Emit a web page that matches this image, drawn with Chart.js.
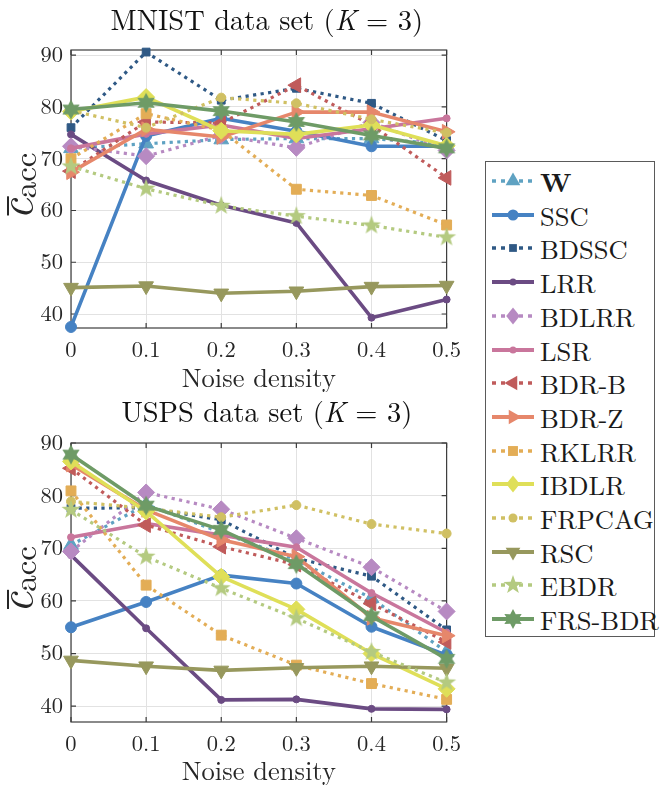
<!DOCTYPE html>
<html><head><meta charset="utf-8">
<script src="https://cdn.jsdelivr.net/npm/chart.js@4.4.1/dist/chart.umd.min.js"></script>
<style>
html,body{margin:0;padding:0;background:#fff;width:663px;height:785px;overflow:hidden;}
#c1{position:absolute;left:0;top:0;}
#c2{position:absolute;left:0;top:390px;}
#legend{position:absolute;left:485px;top:161px;width:170px;height:476px;border:1px solid #5a5a5a;box-sizing:border-box;font-family:"Latin Modern Roman","Liberation Serif",serif;font-size:26.5px;color:#1a1a1a;background:#fff;}
.item{position:absolute;left:5px;height:30px;display:flex;align-items:center;white-space:nowrap;}
.item svg{width:44px;height:30px;margin-right:5px;flex:none;}
</style></head><body>
<canvas id="c1" width="470" height="392"></canvas>
<canvas id="c2" width="470" height="395"></canvas>
<div id="legend"></div>
<script>
// ---------- data ----------
const noiseDensity = [0, 0.1, 0.2, 0.3, 0.4, 0.5];
const xTickLabels = ['0', '0.1', '0.2', '0.3', '0.4', '0.5'];
const yTickValues = [40, 50, 60, 70, 80, 90];
const methods = ['W', 'SSC', 'BDSSC', 'LRR', 'BDLRR', 'LSR', 'BDR-B', 'BDR-Z', 'RKLRR', 'IBDLR', 'FRPCAG', 'RSC', 'EBDR', 'FRS-BDR'];
const titleTop = 'MNIST data set (K = 3)';
const titleBottom = 'USPS data set (K = 3)';
const xAxisTitle = 'Noise density';

// MNIST (K = 3)
const mnistW      = [72.0, 72.9, 73.7, 73.9, 73.9, 72.8];
const mnistSSC    = [37.5, 74.4, 77.8, 75.3, 72.4, 72.4];
const mnistBDSSC  = [76.0, 90.6, 81.3, 83.6, 80.7, 73.5];
const mnistLRR    = [74.7, 65.8, 61.0, 57.6, 39.3, 42.8];
const mnistBDLRR  = [72.4, 70.5, 74.5, 72.1, 77.0, 71.6];
const mnistLSR    = [72.0, 74.8, 76.5, 73.9, 75.8, 77.8];
const mnistBDRB   = [67.6, 77.1, 76.9, 84.2, 76.5, 66.3];
const mnistBDRZ   = [67.4, 75.7, 74.2, 79.0, 79.0, 75.2];
const mnistRKLRR  = [70.0, 78.7, 75.5, 64.1, 62.9, 57.2];
const mnistIBDLR  = [79.1, 81.9, 75.4, 74.7, 76.5, 72.5];
const mnistFRPCAG = [79.3, 76.0, 81.8, 80.7, 77.6, 75.0];
const mnistRSC    = [45.1, 45.4, 44.0, 44.4, 45.3, 45.5];
const mnistEBDR   = [68.5, 64.2, 60.9, 58.9, 57.1, 54.8];
const mnistFRSBDR = [79.5, 80.8, 79.2, 77.1, 74.5, 72.0];

// USPS (K = 3)
const uspsW      = [70.6, 78.3, 73.0, 67.8, 60.5, 50.3];
const uspsSSC    = [55.0, 59.8, 64.9, 63.3, 55.1, 49.7];
const uspsBDSSC  = [77.6, 77.7, 75.4, 68.1, 64.7, 54.5];
const uspsLRR    = [68.7, 54.8, 41.2, 41.3, 39.5, 39.4];
const uspsBDLRR  = [69.4, 80.6, 77.4, 71.9, 66.4, 58.0];
const uspsLSR    = [72.1, 74.7, 72.5, 70.2, 61.5, 54.0];
const uspsBDRB   = [85.2, 74.4, 70.3, 66.9, 59.5, 52.2];
const uspsBDRZ   = [85.9, 77.3, 71.6, 68.4, 56.8, 53.4];
const uspsRKLRR  = [80.9, 63.0, 53.5, 47.8, 44.3, 41.3];
const uspsIBDLR  = [86.5, 77.0, 64.6, 58.4, 50.0, 43.3];
const uspsFRPCAG = [78.9, 77.6, 75.9, 78.2, 74.6, 72.8];
const uspsRSC    = [48.7, 47.6, 46.8, 47.3, 47.6, 47.2];
const uspsEBDR   = [77.3, 68.4, 62.4, 56.7, 50.3, 44.5];
const uspsFRSBDR = [87.8, 78.1, 73.5, 67.0, 57.1, 49.0];

const mnistSeries = [mnistW, mnistSSC, mnistBDSSC, mnistLRR, mnistBDLRR, mnistLSR, mnistBDRB, mnistBDRZ, mnistRKLRR, mnistIBDLR, mnistFRPCAG, mnistRSC, mnistEBDR, mnistFRSBDR];
const uspsSeries  = [uspsW, uspsSSC, uspsBDSSC, uspsLRR, uspsBDLRR, uspsLSR, uspsBDRB, uspsBDRZ, uspsRKLRR, uspsIBDLR, uspsFRPCAG, uspsRSC, uspsEBDR, uspsFRSBDR];

// ---------- styles ----------
const styles = [
  {c:'#5fa2c2', dot:true,  m:'triangle', r:8.5, rot:0},
  {c:'#4682c3', dot:false, m:'circle',   r:5.5, rot:0},
  {c:'#2f5985', dot:true,  m:'rect',     r:5.5, rot:0},
  {c:'#6b4b83', dot:false, m:'circle',   r:3.5, rot:0},
  {c:'#b78ac2', dot:true,  m:'rectRot',  r:8.5, rot:0},
  {c:'#c9769c', dot:false, m:'circle',   r:3.5, rot:0},
  {c:'#c05b5b', dot:true,  m:'triangle', r:8.5, rot:-90},
  {c:'#e6876b', dot:false, m:'triangle', r:8.5, rot:90},
  {c:'#e3ad56', dot:true,  m:'rect',     r:7,   rot:0},
  {c:'#dfdf58', dot:false, m:'rectRot',  r:8.5, rot:0},
  {c:'#d0c063', dot:true,  m:'circle',   r:4.5, rot:0},
  {c:'#97985d', dot:false, m:'triangle', r:8.5, rot:180},
  {c:'#b4ca80', dot:true,  m:'star5',    r:10,  rot:0},
  {c:'#6e9b66', dot:false, m:'star6',    r:10,  rot:0}
];
const FONT = '"Latin Modern Roman", "Liberation Serif", serif';
const TXT = '#262626';

function starPts(n, rOut, rIn, cx, cy) {
  const pts = [];
  for (let i = 0; i < 2 * n; i++) {
    const r = i % 2 === 0 ? rOut : rIn;
    const a = -Math.PI / 2 + i * Math.PI / n;
    pts.push([cx + r * Math.cos(a), cy + r * Math.sin(a)]);
  }
  return pts;
}
function starCanvas(n, rOut, ratio, color) {
  const s = Math.ceil(rOut * 2 + 2);
  const c = document.createElement('canvas');
  c.width = s; c.height = s;
  const g = c.getContext('2d');
  g.fillStyle = color;
  g.beginPath();
  starPts(n, rOut, rOut * ratio, s / 2, s / 2).forEach((p, i) => i ? g.lineTo(p[0], p[1]) : g.moveTo(p[0], p[1]));
  g.closePath(); g.fill();
  return c;
}
function pointStyleFor(st) {
  if (st.m === 'star5') return starCanvas(5, st.r, 0.40, st.c);
  if (st.m === 'star6') return starCanvas(6, st.r, 0.55, st.c);
  return st.m;
}

function buildDatasets(series) {
  return series.map((vals, i) => {
    const st = styles[i];
    return {
      label: methods[i],
      data: vals.map((v, j) => ({x: noiseDensity[j], y: v})),
      borderColor: st.c,
      backgroundColor: st.c,
      borderWidth: st.dot ? 3.2 : 3.6,
      borderDash: st.dot ? [3.2, 4.4] : [],
      borderCapStyle: 'butt',
      borderJoinStyle: 'round',
      pointStyle: pointStyleFor(st),
      pointRadius: st.r,
      pointRotation: st.rot,
      pointBorderWidth: 1,
      pointBorderColor: st.c,
      pointBackgroundColor: st.c,
      tension: 0,
      clip: false,
      order: series.length - i
    };
  });
}

// box + inner ticks
const boxPlugin = {
  id: 'boxTicks',
  beforeDatasetsDraw(chart) {
    const {ctx, chartArea: ca, scales} = chart;
    ctx.save();
    ctx.strokeStyle = '#3c3c3c';
    ctx.lineWidth = 1.2;
    ctx.strokeRect(ca.left, ca.top, ca.right - ca.left, ca.bottom - ca.top);
    ctx.beginPath();
    scales.x.ticks.forEach(t => {
      const px = scales.x.getPixelForValue(t.value);
      ctx.moveTo(px, ca.bottom); ctx.lineTo(px, ca.bottom - 5);
      ctx.moveTo(px, ca.top); ctx.lineTo(px, ca.top + 5);
    });
    scales.y.ticks.forEach(t => {
      const py = scales.y.getPixelForValue(t.value);
      ctx.moveTo(ca.left, py); ctx.lineTo(ca.left + 5, py);
      ctx.moveTo(ca.right, py); ctx.lineTo(ca.right - 5, py);
    });
    ctx.stroke();
    ctx.restore();
  }
};

// title with italic K
const titlePlugin = {
  id: 'mathTitle',
  afterDraw(chart, args, o) {
    const {ctx, chartArea: ca} = chart;
    const parts = o.text.split(/(K)/).filter(s => s.length);
    const fonts = parts.map(p => (p === 'K' ? 'italic ' : '') + o.size + 'px ' + FONT);
    let total = 0;
    const widths = parts.map((p, i) => { ctx.font = fonts[i]; const w = ctx.measureText(p).width; total += w; return w; });
    let x = (ca.left + ca.right) / 2 + o.dx - total / 2;
    ctx.save();
    ctx.fillStyle = '#111';
    ctx.textBaseline = 'alphabetic';
    ctx.textAlign = 'left';
    parts.forEach((p, i) => { ctx.font = fonts[i]; ctx.fillText(p, x, o.baseline); x += widths[i]; });
    ctx.restore();
  }
};

// y-axis label: c-bar with subscript acc
const yLabelPlugin = {
  id: 'yLab',
  afterDraw(chart, args, opts) {
    const {ctx, chartArea: ca} = chart;
    const cy = (ca.top + ca.bottom) / 2 + opts.dy;
    ctx.save();
    ctx.translate(opts.x, cy);
    ctx.rotate(-Math.PI / 2);
    ctx.fillStyle = TXT;
    const fc = 'italic 46px ' + FONT, fa = '33px ' + FONT;
    ctx.font = fc;
    const wc = ctx.measureText('c').width;
    ctx.font = fa;
    const wa = ctx.measureText('acc').width;
    const total = wc + wa;
    const x0 = -total / 2;
    ctx.textBaseline = 'alphabetic';
    ctx.textAlign = 'left';
    ctx.font = fc;
    ctx.fillText('c', x0, 12);
    ctx.fillRect(x0 + 4, 12 - 25, wc - 2, 2);
    ctx.font = fa;
    ctx.fillText('acc', x0 + wc, 16);
    ctx.restore();
  }
};

function makeChart(id, titleText, series, yMin, yMax, topPad, titleBaseline, plotBottomGap) {
  return new Chart(document.getElementById(id), {
    type: 'line',
    data: {datasets: buildDatasets(series)},
    plugins: [boxPlugin, yLabelPlugin, titlePlugin],
    options: {
      responsive: false,
      animation: false,
      events: [],
      layout: {padding: {left: 0, right: 18, top: topPad, bottom: 0}},
      plugins: {
        legend: {display: false},
        tooltip: {enabled: false},
        title: {display: false},
        mathTitle: {text: titleText, size: 28.5, baseline: titleBaseline, dx: 8},
        yLab: {x: 20, dy: -3}
      },
      scales: {
        x: {
          type: 'linear', min: 0, max: 0.5,
          afterBuildTicks: s => { s.ticks = noiseDensity.map(v => ({value: v})); },
          afterFit: s => { s.height = plotBottomGap; },
          ticks: {
            callback: (v, i) => xTickLabels[i],
            color: TXT, font: {family: FONT, size: 22.5}, padding: 9,
            maxRotation: 0, autoSkip: false
          },
          grid: {color: '#e2e2e2', lineWidth: 1, drawTicks: false},
          border: {display: false},
          title: {
            display: true, text: xAxisTitle, color: TXT,
            font: {family: FONT, size: 26.5, lineHeight: 1},
            padding: {top: 0, bottom: 0}
          }
        },
        y: {
          min: yMin, max: yMax,
          afterBuildTicks: s => { s.ticks = yTickValues.map(v => ({value: v})); },
          afterFit: s => { s.width = 71; },
          ticks: {color: TXT, font: {family: FONT, size: 22.5}, padding: 8},
          grid: {color: '#e2e2e2', lineWidth: 1, drawTicks: false},
          border: {display: false}
        }
      }
    }
  });
}

makeChart('c1', titleTop, mnistSeries, 37.3, 91.0, 50, 30, 64);
makeChart('c2', titleBottom, uspsSeries, 37.0, 90.0, 53, 32, 63);

// ---------- legend (HTML) ----------
const NS = 'http://www.w3.org/2000/svg';
const legend = document.getElementById('legend');
methods.forEach((name, i) => {
  const st = styles[i];
  const item = document.createElement('div');
  item.className = 'item';
  item.style.top = (4 + i * 33.7) + 'px';
  const svg = document.createElementNS(NS, 'svg');
  svg.setAttribute('viewBox', '0 0 44 30');
  const ln = document.createElementNS(NS, 'line');
  ln.setAttribute('x1', 1); ln.setAttribute('x2', 43);
  ln.setAttribute('y1', 15); ln.setAttribute('y2', 15);
  ln.setAttribute('stroke', st.c);
  ln.setAttribute('stroke-width', st.dot ? 3.4 : 4);
  if (st.dot) ln.setAttribute('stroke-dasharray', '4 5');
  svg.appendChild(ln);
  const cx = 22, cy = 15, r = st.r;
  let shape;
  if (st.m === 'circle') {
    shape = document.createElementNS(NS, 'circle');
    shape.setAttribute('cx', cx); shape.setAttribute('cy', cy); shape.setAttribute('r', r);
  } else {
    let pts;
    if (st.m === 'rect') { const h = r * Math.SQRT1_2; pts = [[cx-h,cy-h],[cx+h,cy-h],[cx+h,cy+h],[cx-h,cy+h]]; }
    else if (st.m === 'rectRot') pts = [[cx,cy-r],[cx+r*0.8,cy],[cx,cy+r],[cx-r*0.8,cy]];
    else if (st.m === 'triangle') {
      const a0 = st.rot * Math.PI / 180; pts = [];
      for (let k = 0; k < 3; k++) { const a = a0 + k * 2 * Math.PI / 3; pts.push([cx + Math.sin(a) * r, cy - Math.cos(a) * r]); }
    }
    else if (st.m === 'star5') pts = starPts(5, r, r * 0.40, cx, cy);
    else pts = starPts(6, r, r * 0.55, cx, cy);
    shape = document.createElementNS(NS, 'polygon');
    shape.setAttribute('points', pts.map(p => p[0].toFixed(2) + ',' + p[1].toFixed(2)).join(' '));
  }
  shape.setAttribute('fill', st.c);
  svg.appendChild(shape);
  item.appendChild(svg);
  const txt = document.createElement('span');
  txt.textContent = name;
  if (name === 'W') txt.style.fontWeight = 'bold';
  item.appendChild(txt);
  legend.appendChild(item);
});
</script>
</body></html>
